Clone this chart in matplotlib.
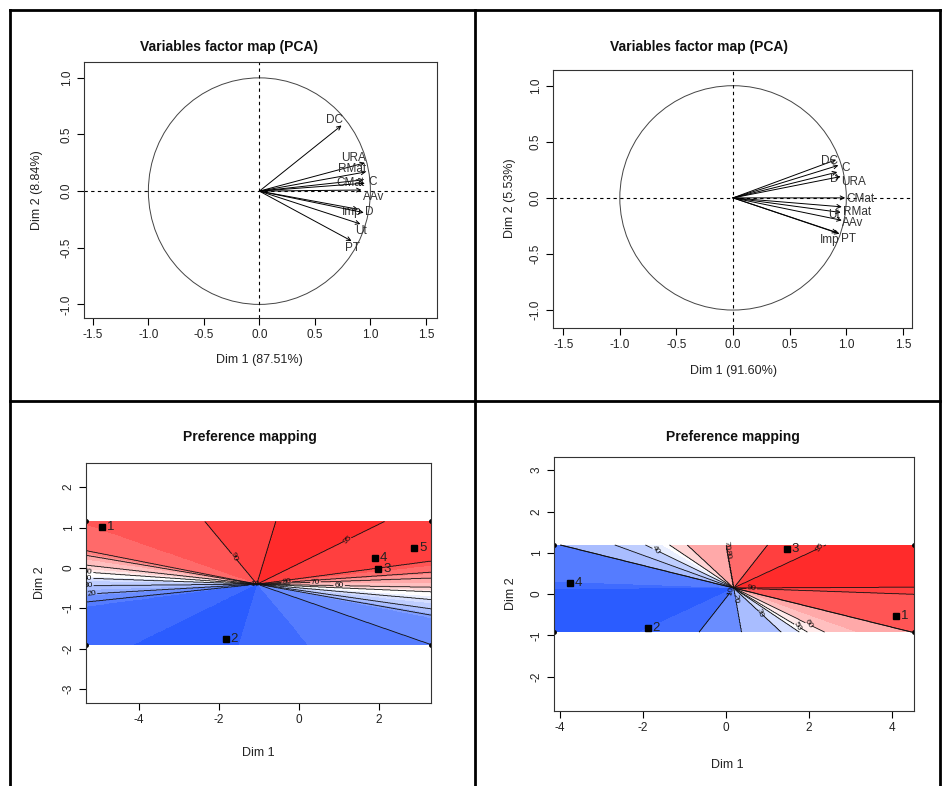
import numpy as np
import matplotlib
matplotlib.use("Agg")
import matplotlib.pyplot as plt
from matplotlib.colors import LinearSegmentedColormap
from matplotlib.lines import Line2D
from matplotlib.patches import Circle
from matplotlib.ticker import FormatStrFormatter

plt.rcParams['font.family'] = ['Liberation Sans', 'DejaVu Sans']
plt.rcParams['axes.unicode_minus'] = False

# ---- PCA variables, study 1 (left) ----
var_names_1 = ["DC", "URA", "RMat", "CMat", "C", "AAv", "Imp", "D", "Ut", "PT"]
var_dim1_1 = [0.74, 0.95, 0.96, 0.94, 0.95, 0.92, 0.89, 0.94, 0.91, 0.83]
var_dim2_1 = [0.58, 0.25, 0.17, 0.10, 0.07, 0.01, -0.16, -0.19, -0.29, -0.44]
dim_pct_1 = [87.51, 8.84]

# ---- PCA variables, study 2 (right) ----
var_names_2 = ["DC", "C", "D", "URA", "CMat", "RMat", "Ut", "AAv", "Imp", "PT"]
var_dim1_2 = [0.91, 0.93, 0.92, 0.95, 0.99, 0.96, 0.95, 0.96, 0.92, 0.94]
var_dim2_2 = [0.34, 0.29, 0.23, 0.19, 0.00, -0.08, -0.13, -0.20, -0.31, -0.32]
dim_pct_2 = [91.60, 5.53]

# ---- preference mapping, study 1 ----
prod_names_1 = ["1", "2", "3", "4", "5"]
prod_x_1 = [-4.93, -1.83, 1.98, 1.90, 2.88]
prod_y_1 = [1.02, -1.76, -0.03, 0.25, 0.50]
# direction (degrees) of each consumer's preference vector
consumer_dir_1 = [-17, 40, 71, 79, 80, 80.5, 82, 83.7, 85, 86, 87.5, 88, 89,
                  90.5, 92, 93.3, 93.9, 95.9, 97.5, 116]
map_center_1 = (-1.05, -0.40)
map_range_1 = (-5.33, 3.30, -1.90, 1.15)

# ---- preference mapping, study 2 ----
prod_names_2 = ["1", "2", "3", "4"]
prod_x_2 = [4.10, -1.88, 1.47, -3.76]
prod_y_2 = [-0.53, -0.82, 1.09, 0.27]
consumer_dir_2 = [-65, -38, -38, 10, 10, 10, 47, 47, 56, 56, 59, 64, 64, 70,
                  76, 76, 76, 76, 88, 90.3]
map_center_2 = (0.19, 0.15)
map_range_2 = (-4.14, 4.53, -0.92, 1.19)

contour_levels = [10, 20, 30, 40, 50, 60, 70, 80, 90, 95]

W, H = 942, 786
fig = plt.figure(figsize=(W / 100, H / 100), dpi=100)


def px_axes(x0, y0, x1, y1):
    return fig.add_axes([x0 / W, 1 - y1 / H, (x1 - x0) / W, (y1 - y0) / H])


def px_text(x, y, s, **kw):
    fig.text(x / W, 1 - y / H, s, ha='center', va='center', **kw)


def r_style(ax, xticks, yticks, fmt=None):
    ax.set_xticks(xticks)
    ax.set_yticks(yticks)
    if fmt:
        ax.xaxis.set_major_formatter(FormatStrFormatter(fmt))
        ax.yaxis.set_major_formatter(FormatStrFormatter(fmt))
    ax.tick_params(direction='out', length=5, width=0.8, labelsize=8.5, pad=3,
                   labelcolor='#222222')
    for lab in ax.get_yticklabels():
        lab.set_rotation(90)
        lab.set_va('center')
    for s in ax.spines.values():
        s.set_linewidth(0.8)
        s.set_color('#333333')


# label offsets (pixels, right / down) from arrow tips
offs_1 = {"DC": (-7, -5), "URA": (-11, -5), "RMat": (-14, -3), "CMat": (-13, 3),
          "C": (8, -1), "AAv": (12, 7), "Imp": (-6, 3), "D": (6, -1),
          "Ut": (1, 7), "PT": (1, 7)}
offs_2 = {"DC": (-7, 1), "C": (7, 3), "D": (-3, 7), "URA": (13, 5),
          "CMat": (15, 1), "RMat": (15, 5), "Ut": (-7, 3), "AAv": (11, 3),
          "Imp": (-8, 7), "PT": (9, 5)}


def var_map(ax, names, d1, d2, offs, xlim, ylim):
    ax.set_xlim(*xlim)
    ax.set_ylim(*ylim)
    ax.axhline(0, color='black', lw=0.8, ls=(0, (3, 3)))
    ax.axvline(0, color='black', lw=0.8, ls=(0, (3, 3)))
    ax.add_patch(Circle((0, 0), 1, fill=False, color='#444444', lw=0.7))
    for n, x, y in zip(names, d1, d2):
        ax.annotate("", xy=(x, y), xytext=(0, 0),
                    arrowprops=dict(arrowstyle='->', lw=0.7, color='black',
                                    mutation_scale=7, shrinkA=0, shrinkB=0))
        dx, dy = offs[n]
        ax.annotate(n, (x, y), xytext=(dx * 0.72, -dy * 0.72),
                    textcoords='offset points', ha='center', va='center',
                    fontsize=8.5, color='#333333')
    r_style(ax, [-1.5, -1.0, -0.5, 0.0, 0.5, 1.0, 1.5],
            [-1.0, -0.5, 0.0, 0.5, 1.0], fmt='%.1f')


cmap = LinearSegmentedColormap.from_list('pref', ['#2b5cff', '#ffffff', '#ff2b2b'])


def pref_map(ax, names, px, py, dirs, center, rng, xlim, ylim, xticks, yticks):
    xs = np.linspace(rng[0], rng[1], 700)
    ys = np.linspace(rng[2], rng[3], 350)
    X, Y = np.meshgrid(xs, ys)
    ang = np.arctan2(Y - center[1], X - center[0])
    d = np.radians(np.asarray(dirs, dtype=float))[:, None, None]
    Z = (np.cos(ang[None] - d) > 0).mean(axis=0) * 100
    ax.pcolormesh(X, Y, Z, cmap=cmap, vmin=0, vmax=100, shading='nearest',
                  rasterized=True)
    cs = ax.contour(X, Y, Z, levels=contour_levels, colors='#111111',
                    linewidths=0.6)
    ax.clabel(cs, fmt='%d', fontsize=6, inline=True, inline_spacing=1)
    ax.plot([rng[0], rng[1], rng[0], rng[1]], [rng[2], rng[2], rng[3], rng[3]],
            'o', color='black', ms=2.5)
    ax.plot(px, py, 's', color='black', ms=4.5)
    for n, x, y in zip(names, px, py):
        ax.annotate(n, (x, y), xytext=(3.5, 0), textcoords='offset points',
                    ha='left', va='center', fontsize=9.5, color='#222222')
    ax.set_xlim(*xlim)
    ax.set_ylim(*ylim)
    r_style(ax, xticks, yticks)


ax1 = px_axes(84, 62, 437, 318)
var_map(ax1, var_names_1, var_dim1_1, var_dim2_1, offs_1,
        (-1.58, 1.60), (-1.12, 1.14))

ax2 = px_axes(553, 70, 912, 328)
var_map(ax2, var_names_2, var_dim1_2, var_dim2_2, offs_2,
        (-1.59, 1.58), (-1.16, 1.14))

ax3 = px_axes(86, 463, 431, 703)
pref_map(ax3, prod_names_1, prod_x_1, prod_y_1, consumer_dir_1, map_center_1,
         map_range_1, (-5.33, 3.30), (-3.35, 2.60), [-4, -2, 0, 2],
         [-3, -2, -1, 0, 1, 2])

ax4 = px_axes(554, 457, 914, 711)
pref_map(ax4, prod_names_2, prod_x_2, prod_y_2, consumer_dir_2, map_center_2,
         map_range_2, (-4.14, 4.53), (-2.83, 3.32), [-4, -2, 0, 2, 4],
         [-2, -1, 0, 1, 2, 3])

# titles and axis labels placed where they sit in the page
title_kw = dict(fontsize=10, fontweight='bold', color='#111111')
lab_kw = dict(fontsize=9, color='#222222')
px_text(229, 47, "Variables factor map (PCA)", **title_kw)
px_text(699, 47, "Variables factor map (PCA)", **title_kw)
px_text(250, 437, "Preference mapping", **title_kw)
px_text(733, 437, "Preference mapping", **title_kw)
px_text(259, 360, "Dim 1 (%.2f%%)" % dim_pct_1[0], **lab_kw)
px_text(37, 190, "Dim 2 (%.2f%%)" % dim_pct_1[1], rotation=90, **lab_kw)
px_text(733, 371, "Dim 1 (%.2f%%)" % dim_pct_2[0], **lab_kw)
px_text(510, 198, "Dim 2 (%.2f%%)" % dim_pct_2[1], rotation=90, **lab_kw)
px_text(258, 753, "Dim 1", **lab_kw)
px_text(40, 583, "Dim 2", rotation=90, **lab_kw)
px_text(727, 765, "Dim 1", **lab_kw)
px_text(511, 594, "Dim 2", rotation=90, **lab_kw)

# table frame around the four panels
frame = [((10, 10), (940, 10)), ((10, 401), (940, 401)),
         ((10, 10), (10, 786)), ((475, 10), (475, 786)), ((940, 10), (940, 786))]
for (xa, ya), (xb, yb) in frame:
    fig.add_artist(Line2D([xa / W, xb / W], [1 - ya / H, 1 - yb / H],
                          transform=fig.transFigure, color='black', lw=2))

fig.savefig("out.png", dpi=100)
